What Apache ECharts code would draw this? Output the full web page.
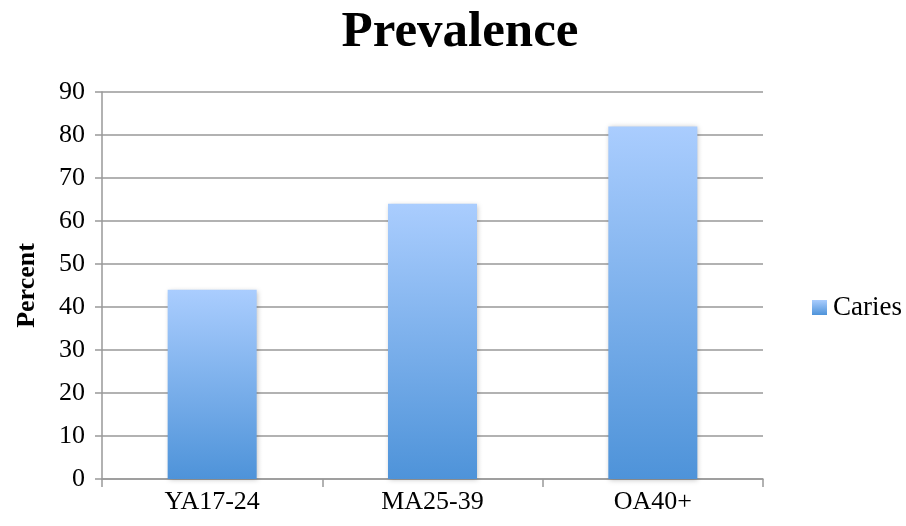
<!DOCTYPE html>
<html>
<head>
<meta charset="utf-8">
<script src="https://cdn.jsdelivr.net/npm/echarts@6/dist/echarts.min.js"></script>
<style>html,body{margin:0;padding:0;background:#fff}#c{width:906px;height:526px}</style>
</head>
<body>
<div id="c"></div>
<script>
const categories = ['YA17-24', 'MA25-39', 'OA40+'];
const cariesValues = [44, 64, 82];
const yTicks = { min: 0, max: 90, interval: 10 };
const seriesName = 'Caries';
const titleText = 'Prevalence';
const yAxisName = 'Percent';

const FONT = '"Liberation Serif", "Times New Roman", serif';
const grad = new echarts.graphic.LinearGradient(0, 0, 0, 1, [
  { offset: 0, color: '#aacdfe' },
  { offset: 1, color: '#4e93d9' }
]);
const chart = echarts.init(document.getElementById('c'), null, { renderer: 'canvas' });
chart.setOption({
  animation: false,
  backgroundColor: '#fff',
  title: {
    text: titleText, left: 455, top: 2, textAlign: 'center',
    textStyle: { fontFamily: FONT, fontWeight: 'bold', fontSize: 51, color: '#000' }
  },
  legend: {
    data: [seriesName], orient: 'vertical', left: 807, top: 289,
    icon: 'rect', itemWidth: 15, itemHeight: 15, itemGap: 5,
    textStyle: { fontFamily: FONT, fontSize: 27, color: '#000', padding: [0,0,0,1] }
  },
  grid: { left: 102, right: 143, top: 92, bottom: 47, containLabel: false },
  xAxis: {
    type: 'category', data: categories,
    axisLine: { lineStyle: { color: '#999', width: 1.5 } },
    axisTick: { show: true, length: 8, lineStyle: { color: '#999', width: 1.5 } },
    axisLabel: { fontFamily: FONT, fontSize: 26, color: '#000', margin: 10 }
  },
  yAxis: {
    type: 'value', min: yTicks.min, max: yTicks.max, interval: yTicks.interval,
    name: yAxisName, nameLocation: 'middle', nameGap: 62, nameRotate: 90,
    nameTextStyle: { fontFamily: FONT, fontWeight: 'bold', fontSize: 26, color: '#000' },
    axisLine: { show: true, lineStyle: { color: '#999', width: 1.5 } },
    axisTick: { show: true, length: 7, lineStyle: { color: '#999', width: 1.5 } },
    splitLine: { lineStyle: { color: '#999', width: 1.5 } },
    axisLabel: { fontFamily: FONT, fontSize: 26, color: '#000', margin: 17 }
  },
  series: [{
    name: seriesName, type: 'bar', data: cariesValues, barWidth: '40.4%',
    itemStyle: { color: grad, shadowColor: 'rgba(0,0,0,0.25)', shadowBlur: 5, shadowOffsetX: 1, shadowOffsetY: 1 }
  }]
});
</script>
</body>
</html>
